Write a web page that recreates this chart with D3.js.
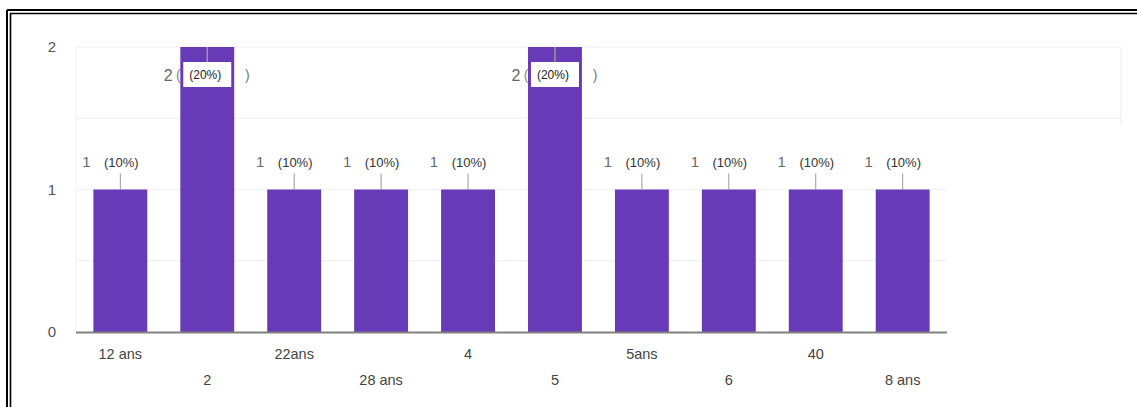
<!DOCTYPE html>
<html>
<head>
<meta charset="utf-8">
<script src="https://cdn.jsdelivr.net/npm/d3@7"></script>
<style>
  body { margin: 0; background: #fff; }
  svg { display: block; font-family: Arial, "Liberation Sans", sans-serif; }
</style>
</head>
<body>
<div id="chart-container"></div>
<script>
// data
const categories = ["12 ans", "2", "22ans", "28 ans", "4", "5", "5ans", "6", "40", "8 ans"];
const counts = [1, 2, 1, 1, 1, 2, 1, 1, 1, 1];
const percents = ["10%", "20%", "10%", "10%", "10%", "20%", "10%", "10%", "10%", "10%"];
const yTicks = [0, 1, 2];
const gridValues = [0.5, 1, 1.5, 2];

const data = categories.map((c, i) => ({ cat: c, count: counts[i], pct: percents[i], i: i }));

const width = 1137;
const height = 407;

const svg = d3.select("#chart-container")
    .append("svg")
    .attr("width", width)
    .attr("height", height);

// frame (double line, top and left)
svg.append("line").attr("x1", 7).attr("x2", width).attr("y1", 10).attr("y2", 10)
    .attr("stroke", "#000").attr("stroke-width", 2);
svg.append("line").attr("x1", 7).attr("x2", 7).attr("y1", 10).attr("y2", height)
    .attr("stroke", "#000").attr("stroke-width", 2);
svg.append("line").attr("x1", 10).attr("x2", width).attr("y1", 13.5).attr("y2", 13.5)
    .attr("stroke", "#000").attr("stroke-width", 1.6);
svg.append("line").attr("x1", 10.5).attr("x2", 10.5).attr("y1", 13.5).attr("y2", height)
    .attr("stroke", "#000").attr("stroke-width", 1.6);

// scales
const x = d3.scaleBand()
    .domain(categories)
    .range([76, 947])
    .paddingInner(0.38)
    .paddingOuter(0.2);

const y = d3.scaleLinear()
    .domain([0, 2])
    .range([332, 47]);

// gridlines (upper ones run further right, as in the picture)
svg.append("g")
    .selectAll("line")
    .data(gridValues)
    .join("line")
    .attr("x1", 76)
    .attr("x2", d => d >= 1.5 ? 1121 : 947)
    .attr("y1", d => y(d))
    .attr("y2", d => y(d))
    .attr("stroke", "#f4f4f4")
    .attr("stroke-width", 1.5);

svg.append("line")
    .attr("x1", 1121).attr("x2", 1121)
    .attr("y1", y(2)).attr("y2", y(1.45))
    .attr("stroke", "#f4f4f4").attr("stroke-width", 1.5);

svg.append("line")
    .attr("x1", 76).attr("x2", 76)
    .attr("y1", y(2)).attr("y2", y(0))
    .attr("stroke", "#f6f6f6").attr("stroke-width", 1.5);

// y labels
svg.append("g")
    .selectAll("text")
    .data(yTicks)
    .join("text")
    .attr("x", 56)
    .attr("y", d => y(d) + 5)
    .attr("text-anchor", "end")
    .style("font-size", "15px")
    .style("fill", "#555")
    .text(d => d);

// bars
svg.append("g")
    .selectAll("rect")
    .data(data)
    .join("rect")
    .attr("x", d => x(d.cat))
    .attr("y", d => y(d.count))
    .attr("width", x.bandwidth())
    .attr("height", d => y(0) - y(d.count))
    .attr("fill", "#673ab7");

// baseline
svg.append("line")
    .attr("x1", 76).attr("x2", 947)
    .attr("y1", y(0) + 0.5).attr("y2", y(0) + 0.5)
    .attr("stroke", "#808080").attr("stroke-width", 2);

// x labels, staggered on two rows
svg.append("g")
    .selectAll("text")
    .data(data)
    .join("text")
    .attr("x", d => x(d.cat) + x.bandwidth() / 2)
    .attr("y", d => d.i % 2 === 0 ? 359 : 385)
    .attr("text-anchor", "middle")
    .style("font-size", "14.5px")
    .style("fill", "#444")
    .text(d => d.cat);

// annotations
const cx = d => x(d.cat) + x.bandwidth() / 2;
const ann = svg.append("g");

const ones = data.filter(d => d.count === 1);
const twos = data.filter(d => d.count === 2);

// value 1: stem above the bar, then "1  (10%)"
ann.selectAll("line.s1")
    .data(ones)
    .join("line")
    .attr("class", "s1")
    .attr("x1", cx).attr("x2", cx)
    .attr("y1", d => y(d.count) - 16)
    .attr("y2", d => y(d.count))
    .attr("stroke", "#999").attr("stroke-width", 1);

ann.selectAll("text.v1")
    .data(ones)
    .join("text")
    .attr("class", "v1")
    .attr("x", d => cx(d) - 34)
    .attr("y", d => y(d.count) - 23)
    .attr("text-anchor", "middle")
    .style("font-size", "15px")
    .style("fill", "#6b6b6b")
    .text(d => d.count);

ann.selectAll("text.p1")
    .data(ones)
    .join("text")
    .attr("class", "p1")
    .attr("x", d => cx(d) + 1)
    .attr("y", d => y(d.count) - 23)
    .attr("text-anchor", "middle")
    .style("font-size", "13px")
    .style("fill", "#333")
    .text(d => "(" + d.pct + ")");

// value 2: label sits inside the bar on a white patch
ann.selectAll("line.s2")
    .data(twos)
    .join("line")
    .attr("class", "s2")
    .attr("x1", cx).attr("x2", cx)
    .attr("y1", d => y(d.count))
    .attr("y2", d => y(d.count) + 16)
    .attr("stroke", "#999").attr("stroke-width", 1.5);

ann.selectAll("rect.b2")
    .data(twos)
    .join("rect")
    .attr("class", "b2")
    .attr("x", d => cx(d) - 24)
    .attr("y", d => y(d.count) + 15)
    .attr("width", 48)
    .attr("height", 25)
    .attr("fill", "#fff");

ann.selectAll("text.v2")
    .data(twos)
    .join("text")
    .attr("class", "v2")
    .attr("x", d => cx(d) - 39)
    .attr("y", d => y(d.count) + 34)
    .attr("text-anchor", "middle")
    .style("font-size", "16px")
    .style("fill", "#666")
    .text(d => d.count);

ann.selectAll("text.o2")
    .data(twos)
    .join("text")
    .attr("class", "o2")
    .attr("x", d => cx(d) - 29)
    .attr("y", d => y(d.count) + 33)
    .attr("text-anchor", "middle")
    .style("font-size", "14px")
    .style("fill", "#888")
    .text("(");

ann.selectAll("text.p2")
    .data(twos)
    .join("text")
    .attr("class", "p2")
    .attr("x", d => cx(d) - 2)
    .attr("y", d => y(d.count) + 32)
    .attr("text-anchor", "middle")
    .style("font-size", "12px")
    .style("fill", "#222")
    .text(d => "(" + d.pct + ")");

ann.selectAll("text.c2")
    .data(twos)
    .join("text")
    .attr("class", "c2")
    .attr("x", d => cx(d) + 40)
    .attr("y", d => y(d.count) + 33)
    .attr("text-anchor", "middle")
    .style("font-size", "14px")
    .style("fill", "#777")
    .text(")");
</script>
</body>
</html>
